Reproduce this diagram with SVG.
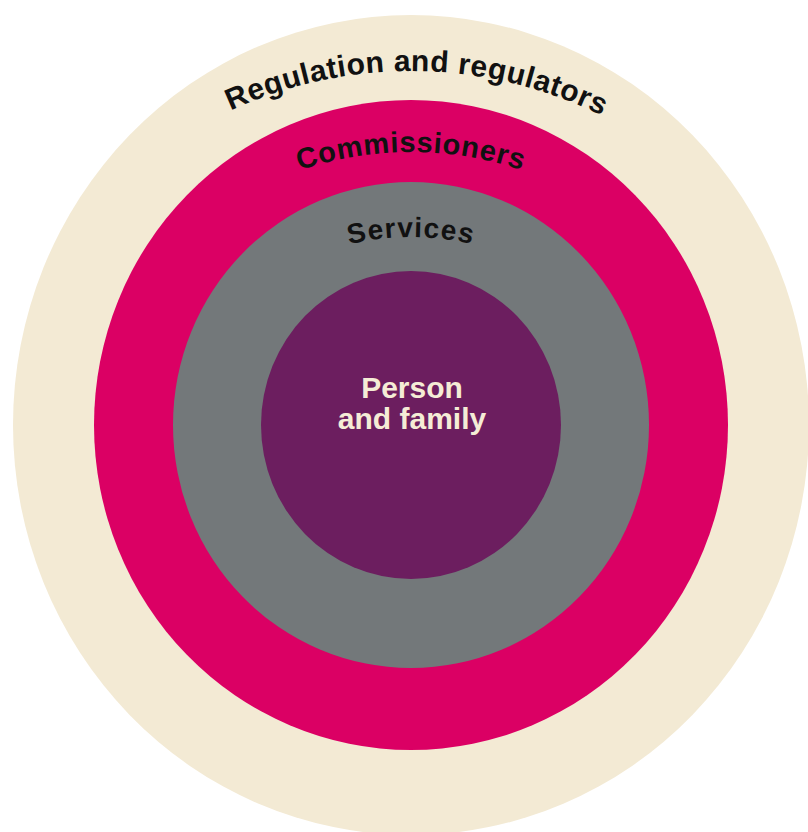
<svg xmlns="http://www.w3.org/2000/svg" xmlns:xlink="http://www.w3.org/1999/xlink" width="808" height="832" viewBox="0 0 808 832">
  <style>
    .lbl { font-family: "Liberation Sans", Arial, sans-serif; font-weight: bold; fill: #111111; }
    .inner { font-family: "Liberation Sans", Arial, sans-serif; font-weight: bold; fill: #f5ecd6; font-size: 30px; text-anchor: middle; }
  </style>
  <defs>
    <path id="arcReg" d="M -18 500 A 429 429 0 0 1 840 500"/>
    <path id="arcCom" d="M 63 500 A 348 348 0 0 1 759 500"/>
    <path id="arcSer" d="M 148 500 A 263 263 0 0 1 674 500"/>
  </defs>
  <rect width="808" height="832" fill="#ffffff"/>
  <g id="regulation">
    <ellipse cx="411" cy="425" rx="398" ry="410" fill="#f3ead4"/>
    <text class="lbl" font-size="30" letter-spacing="0.5"><textPath xlink:href="#arcReg" href="#arcReg" startOffset="50.45%" text-anchor="middle">Regulation and regulators</textPath></text>
  </g>
  <g id="commissioners">
    <ellipse cx="411" cy="425" rx="317" ry="325" fill="#db0064"/>
    <text class="lbl" font-size="29" letter-spacing="0.7"><textPath xlink:href="#arcCom" href="#arcCom" startOffset="50%" text-anchor="middle">Commissioners</textPath></text>
  </g>
  <g id="services">
    <ellipse cx="411" cy="425" rx="238" ry="243" fill="#73787a"/>
    <text class="lbl" font-size="28" letter-spacing="1.2"><textPath xlink:href="#arcSer" href="#arcSer" startOffset="50%" text-anchor="middle">Services</textPath></text>
  </g>
  <g id="person">
    <ellipse cx="411" cy="425" rx="150" ry="154" fill="#6c1e5f"/>
    <text class="inner" x="412" y="398">Person</text>
    <text class="inner" x="412" y="429">and family</text>
  </g>
</svg>
